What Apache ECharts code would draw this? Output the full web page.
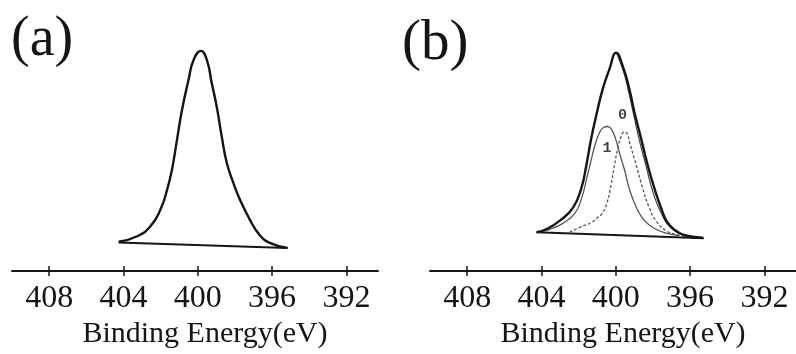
<!DOCTYPE html>
<html>
<head>
<meta charset="utf-8">
<script src="https://cdn.jsdelivr.net/npm/echarts@6/dist/echarts.min.js"></script>
<style>
  html, body { margin: 0; padding: 0; background: #fff; }
  #chart { width: 796px; height: 354px; }
</style>
</head>
<body>
<div id="chart"></div>
<script>
// binding energy tick labels (eV), axis runs high -> low
const xTicks = [392, 396, 400, 404, 408]

// (a) N1s spectrum, single peak
const energyA = [404.26, 403.26, 402.55, 402.01, 401.65, 401.39, 401.12, 400.85, 400.50, 400.23, 399.83,
  399.51, 399.25, 398.98, 398.71, 398.44, 398.09, 397.73, 397.20, 396.66, 396.13, 395.17]
const countsA = [29.5, 35, 45, 61.7, 81.7, 101.7, 131.7, 161.7, 191.7, 211.7, 221,
  211.7, 188.7, 165, 135, 108.7, 88.7, 71.7, 51.7, 36, 28.4, 23.2]
const baseEnergyA = [404.26, 395.17]
const baseCountsA = [28.7, 23.2]

// (b) N1s spectrum with two fitted components
const energyB = [404.26, 403.72, 403.01, 402.30, 401.85, 401.58, 401.32, 401.05, 400.70, 400.34, 399.98,
  399.63, 399.27, 399.00, 398.64, 398.29, 397.93, 397.57, 397.22, 396.77, 396.24, 395.31]
const countsB = [39.3, 42.6, 51, 64.3, 84.3, 107.6, 134.3, 157.6, 184.3, 204.3, 221,
  207.6, 184.3, 161, 134.3, 107.6, 84.3, 64.3, 49.3, 41, 36, 33.8]
const fitEnergyB = [399.98, 399.91, 399.59, 399.32, 399.05, 398.73, 398.37, 398.02, 397.57, 396.95, 396.17]
const fitCountsB = [221, 218.3, 202.3, 182.3, 159.3, 132.3, 106.3, 81.3, 59.3, 42.3, 35.8]
const comp1Energy = [404.19, 403.55, 402.85, 402.21, 401.83, 401.56, 401.30, 401.09, 400.87, 400.66, 400.44,
  400.23, 400.02, 399.80, 399.53, 399.27, 398.89, 398.46, 397.93, 397.29, 396.59]
const comp1Counts = [39.3, 42.3, 48.3, 58.3, 74.3, 94.3, 114.3, 129.3, 140.3, 145.3, 146.3,
  143.3, 134.3, 119.3, 102.3, 83.3, 64.3, 51.3, 43.3, 38.3, 35.8]
const comp0Energy = [402.48, 401.94, 401.30, 400.98, 400.76, 400.50, 400.25, 400.07, 399.89, 399.75, 399.53,
  399.37, 399.27, 398.91, 398.56, 398.20, 397.84, 397.30, 396.59, 395.95]
const comp0Counts = [39.3, 44.3, 49.3, 54.3, 57.6, 67.6, 87.6, 107.6, 124.3, 134.3, 141,
  138.3, 131, 107.6, 84.3, 64.3, 51, 41, 36.3, 34.3]
const baseEnergyB = [404.27, 395.26]
const baseCountsB = [39.3, 33.3]

// component tags in (b)
const tagNames = ['0', '1']
const tagEnergy = [399.64, 400.47]
const tagCounts = [158, 124]

const zip = (xs, ys) => xs.map((x, i) => [x, ys[i]])

const serif = 'Liberation Serif'
const ink = '#151515'

const makeX = (gridIndex) => {
  const base = {
    type: 'value',
    gridIndex,
    inverse: true,
    min: 390.3,
    max: 410,
    splitLine: { show: false }
  }
  return [
    {
      ...base,
      position: 'bottom',
      name: 'Binding Energy(eV)',
      nameLocation: 'middle',
      nameGap: 46,
      nameTextStyle: { fontFamily: serif, fontSize: 30, color: ink, padding: [0, 0, 0, 20] },
      axisLine: { lineStyle: { color: ink, width: 2 } },
      axisTick: { length: 5, customValues: xTicks, lineStyle: { color: ink, width: 1.5 } },
      axisLabel: { customValues: xTicks, fontFamily: serif, fontSize: 32, color: ink, margin: 11 }
    },
    {
      ...base,
      position: 'bottom',
      axisLine: { show: false },
      axisTick: { inside: true, length: 5, customValues: xTicks, lineStyle: { color: ink, width: 1.5 } },
      axisLabel: { show: false }
    }
  ]
}

const makeY = (gridIndex) => ({
  type: 'value',
  gridIndex,
  min: 0,
  max: 250,
  show: false
})

const line = (idx, data, opts) => ({
  type: 'line',
  xAxisIndex: idx * 2,
  yAxisIndex: idx,
  data,
  symbol: 'none',
  smooth: 0.5,
  silent: true,
  ...opts
})

const myChart = echarts.init(document.getElementById('chart'))
const option = {
  animation: false,
  title: [
    { text: '(a)', left: 6, top: 7, textStyle: { fontFamily: serif, fontSize: 56, fontWeight: 'normal', color: ink } },
    { text: '(b)', left: 397, top: 11, textStyle: { fontFamily: serif, fontSize: 57, fontWeight: 'normal', color: ink } }
  ],
  grid: [
    { left: 12, top: 22, width: 366, height: 250 },
    { left: 430, top: 24, width: 366, height: 250 }
  ],
  xAxis: [...makeX(0), ...makeX(1)],
  yAxis: [makeY(0), makeY(1)],
  series: [
    line(0, zip(baseEnergyA, baseCountsA), { smooth: false, lineStyle: { color: ink, width: 2 } }),
    line(0, zip(energyA, countsA), { lineStyle: { color: ink, width: 2.4 } }),

    line(1, zip(baseEnergyB, baseCountsB), { smooth: false, lineStyle: { color: ink, width: 2 } }),
    line(1, zip(comp1Energy, comp1Counts), { lineStyle: { color: '#555', width: 1.3 } }),
    line(1, zip(comp0Energy, comp0Counts), { lineStyle: { color: '#555', width: 1.3, type: [3, 2] } }),
    line(1, zip(fitEnergyB, fitCountsB), { lineStyle: { color: '#444', width: 1.2 } }),
    line(1, zip(energyB, countsB), { lineStyle: { color: ink, width: 2.4 } }),
    {
      type: 'scatter',
      xAxisIndex: 2,
      yAxisIndex: 1,
      symbolSize: 0,
      silent: true,
      data: tagNames.map((n, i) => ({ value: [tagEnergy[i], tagCounts[i]], name: n })),
      label: {
        show: true,
        position: 'inside',
        formatter: '{b}',
        fontFamily: 'Liberation Mono',
        fontWeight: 'bold',
        fontSize: 15,
        color: ink
      }
    }
  ]
}
myChart.setOption(option)
</script>
</body>
</html>
